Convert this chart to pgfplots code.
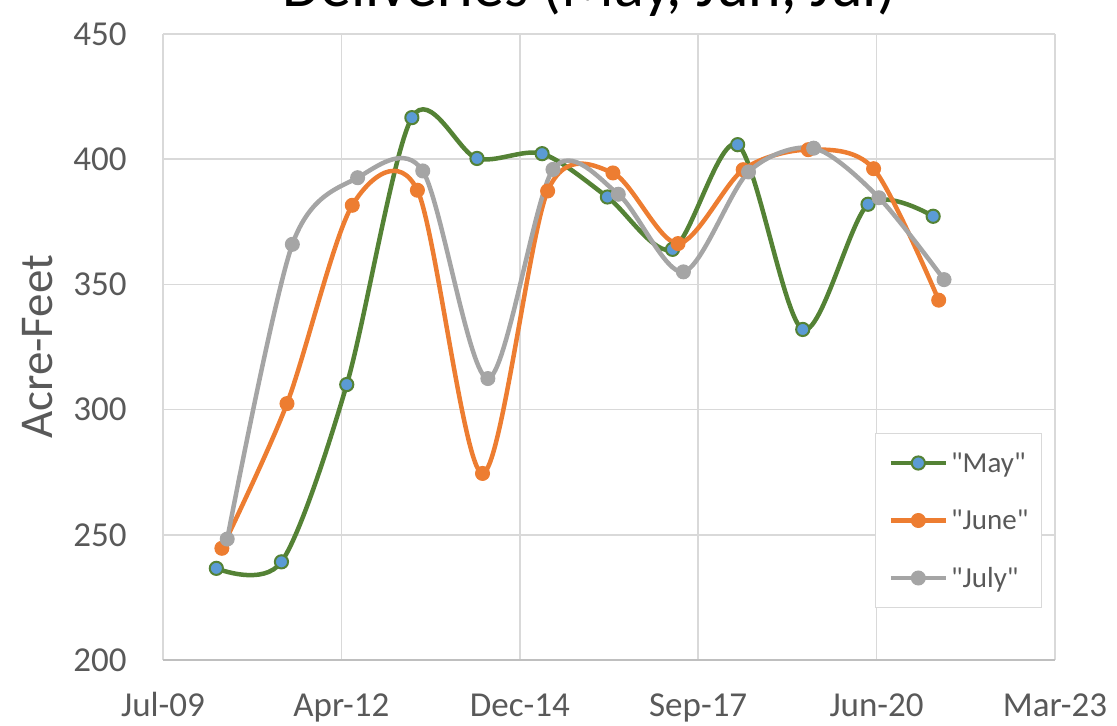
\documentclass[border=0pt]{standalone}
\usepackage{fontspec}
\setmainfont{Carlito}[Ligatures=TeXOff]
\usepackage{pgfplots}
\pgfplotsset{compat=1.18}
\definecolor{maygreen}{RGB}{84,130,53}
\definecolor{mayblue}{RGB}{91,155,213}
\definecolor{juneorange}{RGB}{237,125,49}
\definecolor{julygray}{RGB}{165,165,165}
\definecolor{gridgray}{RGB}{217,217,217}
\definecolor{axisgray}{RGB}{191,191,191}
\definecolor{textgray}{RGB}{89,89,89}

% x = days after 6 Jul 2009 (Excel serial 40000)
\pgfplotstableread{
x y
299 236.6
664 239.2
1030 310.0
1395 416.6
1760 400.3
2125 402.2
2491 384.9
2856 364.0
3221 405.8
3586 332.0
3952 382.0
4317 377.2
}\maydata
\pgfplotstableread{
x y
330 244.6
695 302.4
1061 381.6
1426 387.6
1791 274.5
2156 387.3
2522 394.5
2887 366.3
3252 395.8
3617 403.8
3983 396.2
4348 343.7
}\junedata
\pgfplotstableread{
x y
360 248.3
725 366.0
1091 392.6
1456 395.3
1821 312.4
2186 395.9
2552 386.0
2917 355.0
3282 394.9
3647 404.4
4013 384.6
4378 351.9
}\julydata

\begin{document}
\begin{tikzpicture}
\begin{axis}[
  at={(81.5pt,33pt)}, anchor=south west,
  scale only axis, width=446pt, height=313pt,
  xmin=0, xmax=5000, ymin=200, ymax=450,
  xtick={0,1000,2000,3000,4000,5000},
  xticklabels={Jul-09,Apr-12,Dec-14,Sep-17,Jun-20,Mar-23},
  ytick={200,250,300,350,400,450},
  grid=major,
  major grid style={gridgray, line width=0.75pt},
  axis x line*=bottom,
  axis y line*=left,
  x axis line style={axisgray, line width=0.75pt},
  y axis line style={draw=none},
  major tick length=0pt,
  tick label style={font=\fontsize{17.5}{21}\selectfont, text=textgray},
  /pgf/number format/assume math mode=true,
  xticklabel style={anchor=base, inner sep=0pt, yshift=-28.5pt},
  yticklabel style={anchor=east, inner sep=0pt, xshift=-18pt},
  ylabel={Acre-Feet},
  ylabel style={at={(axis description cs:-0.1244,0.5)}, anchor=base, font=\fontsize{23.5}{28}\selectfont, text=textgray},
  title={Deliveries (May, Jun, Jul)},
  title style={at={(axis description cs:0.4776,1.024)}, anchor=base, font=\fontsize{31}{37}\selectfont, text=black},
  legend style={at={(axis description cs:0.798,0.363)}, anchor=north west,
    draw=gridgray, line width=0.75pt, fill=white,
    font=\fontsize{14.5}{17}\selectfont, text=textgray,
    inner xsep=6.5pt, inner ysep=7.25pt, row sep=13.75pt,
    nodes={inner sep=0pt, text height=12pt, text depth=3pt},
    /tikz/every odd column/.append style={column sep=1.5pt}},
  legend cell align=left,
  legend image code/.code={\draw[mark repeat=2, mark phase=2, #1] plot coordinates {(0pt,0pt) (13.75pt,0pt) (27.5pt,0pt)};},
]
\addplot[maygreen, line width=2.25pt, smooth, tension=0.5, mark=*, mark size=3.3pt,
  mark options={fill=mayblue, draw=maygreen, line width=1pt}] table[x=x,y=y] {\maydata};
\addlegendentry{"May"}
\addplot[juneorange, line width=2.25pt, smooth, tension=0.5, mark=*, mark size=3.5pt,
  mark options={fill=juneorange, draw=juneorange, line width=0.5pt}] table[x=x,y=y] {\junedata};
\addlegendentry{"June"}
\addplot[julygray, line width=2.25pt, smooth, tension=0.5, mark=*, mark size=3.5pt,
  mark options={fill=julygray, draw=julygray, line width=0.5pt}] table[x=x,y=y] {\julydata};
\addlegendentry{"July"}
\end{axis}
\pgfresetboundingbox
\path (0pt,0pt) rectangle (558.5pt,363pt);
\end{tikzpicture}
\end{document}
